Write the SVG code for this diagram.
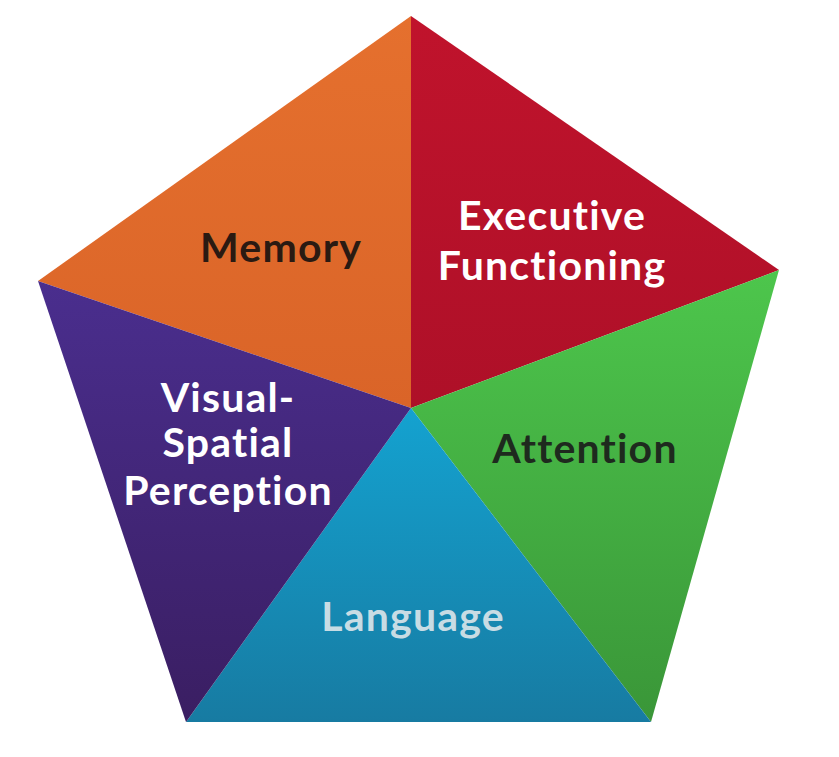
<svg xmlns="http://www.w3.org/2000/svg" width="839" height="757" viewBox="0 0 839 757">
<defs>
<linearGradient id="gO" x1="0" y1="0" x2="0" y2="1"><stop offset="0" stop-color="#E5702E"/><stop offset="1" stop-color="#DA6428"/></linearGradient>
<linearGradient id="gR" x1="0" y1="0" x2="0" y2="1"><stop offset="0" stop-color="#C0132C"/><stop offset="1" stop-color="#AE1028"/></linearGradient>
<linearGradient id="gG" x1="0" y1="0" x2="0" y2="1"><stop offset="0" stop-color="#4DC64C"/><stop offset="1" stop-color="#3A9638"/></linearGradient>
<linearGradient id="gB" x1="0" y1="0" x2="0" y2="1"><stop offset="0" stop-color="#14A2D0"/><stop offset="1" stop-color="#177BA2"/></linearGradient>
<linearGradient id="gP" x1="0" y1="0" x2="0" y2="1"><stop offset="0" stop-color="#4A2E8E"/><stop offset="1" stop-color="#3A1E62"/></linearGradient>
</defs>
<style>text{font-family:Lato,"Open Sans",sans-serif;font-weight:bold;font-size:41px;letter-spacing:1.2px;text-anchor:middle}</style>
<rect width="839" height="757" fill="#fff"/>
<g id="memory"><polygon points="411,408 411,16 38,281" fill="url(#gO)"/><text x="281" y="262" fill="#2A1A12">Memory</text></g>
<g id="executive"><polygon points="411,408 411,16 779,270" fill="url(#gR)"/><text x="552" y="230" fill="#fff">Executive</text><text x="552" y="280" fill="#fff">Functioning</text></g>
<g id="attention"><polygon points="411,408 779,270 651,722" fill="url(#gG)"/><text x="585" y="463" fill="#1E2A1E">Attention</text></g>
<g id="language"><polygon points="411,408 651,722 186,722" fill="url(#gB)"/><text x="413" y="631" fill="#C8DCE4">Language</text></g>
<g id="visual"><polygon points="411,408 186,722 38,281" fill="url(#gP)"/><text x="228" y="412" fill="#fff">Visual-</text><text x="228" y="457" fill="#fff">Spatial</text><text x="228" y="505" fill="#fff">Perception</text></g>
<g id="connectors"/>
</svg>
